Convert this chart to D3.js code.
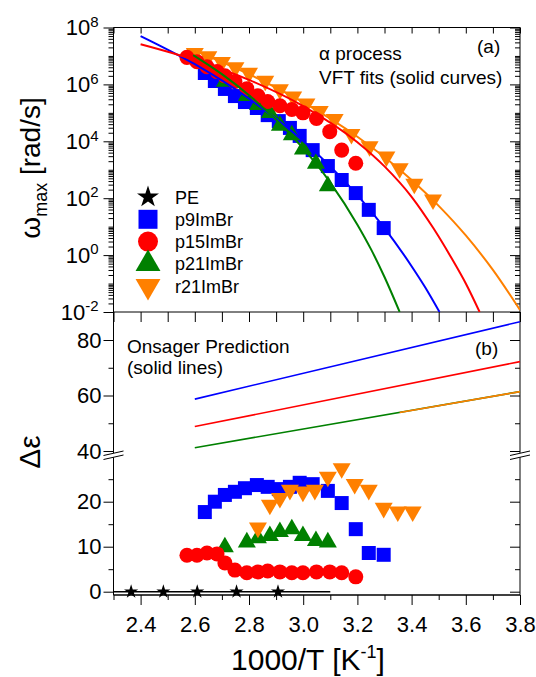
<!DOCTYPE html>
<meta charset="utf-8">
<style>
  body { margin: 0; background: #fff; }
  text { font-family: Arial, "Liberation Sans", sans-serif; fill: #000; }
</style>
<div id="container"></div>
<script src="https://cdn.jsdelivr.net/npm/d3@7"></script>
<script>

// ---- panel (a): alpha process, log10(omega_max [rad/s]) vs 1000/T ----
const p9_x    = [2.637, 2.674, 2.711, 2.748, 2.785, 2.829, 2.869, 2.910, 2.951, 2.987, 3.035, 3.091, 3.142, 3.194, 3.242, 3.297];
const p9_logw = [6.40, 6.12, 5.84, 5.59, 5.38, 5.17, 4.92, 4.71, 4.47, 4.19, 3.69, 3.13, 2.64, 2.18, 1.59, 0.95];

const p15_x    = [2.571, 2.608, 2.645, 2.682, 2.711, 2.748, 2.792, 2.833, 2.869, 2.914, 2.958, 2.999, 3.049, 3.098, 3.142, 3.194];
const p15_logw = [6.95, 6.80, 6.62, 6.45, 6.30, 6.10, 5.85, 5.60, 5.40, 5.25, 5.12, 5.00, 4.80, 4.34, 3.69, 3.23];

const p21_x    = [2.711, 2.792, 2.833, 2.877, 2.914, 2.958, 2.999, 3.047, 3.091];
const p21_logw = [6.10, 5.60, 5.28, 5.00, 4.55, 4.22, 3.72, 3.22, 2.43];

const r21_x    = [2.60, 2.65, 2.70, 2.75, 2.80, 2.86, 2.914, 2.963, 3.012, 3.061, 3.116, 3.178, 3.245, 3.307, 3.356, 3.41, 3.479];
const r21_logw = [7.10, 6.98, 6.78, 6.60, 6.40, 6.12, 5.82, 5.57, 5.32, 5.06, 4.78, 4.25, 3.82, 3.46, 3.05, 2.50, 1.95];

// VFT fit curves
const vft_p9_x  = [2.4, 2.6, 2.8, 3.0, 3.1, 3.2, 3.3, 3.4, 3.45, 3.503];
const vft_p9_y  = [7.70, 6.71, 5.50, 4.01, 3.12, 2.11, 0.95, -0.39, -1.13, -2.0];
const vft_p15_x = [2.4, 2.6, 2.8, 3.0, 3.2, 3.3, 3.4, 3.48, 3.55, 3.6, 3.651];
const vft_p15_y = [7.41, 6.86, 6.16, 5.24, 3.97, 3.12, 2.05, 0.95, -0.15, -1.0, -2.0];
const vft_p21_x = [2.594, 2.7, 2.8, 2.9, 3.0, 3.1, 3.2, 3.25, 3.3, 3.356];
const vft_p21_y = [7.03, 6.36, 5.62, 4.76, 3.75, 2.55, 1.07, 0.21, -0.77, -2.0];
const vft_r21_x = [2.594, 2.8, 3.0, 3.2, 3.4, 3.5, 3.6, 3.7, 3.8];
const vft_r21_y = [7.21, 6.36, 5.37, 4.16, 2.64, 1.73, 0.69, -0.52, -1.93];

// ---- panel (b): dielectric strength ----
const pe_x  = [2.365, 2.484, 2.609, 2.754, 2.907];
const pe_de = [0, 0, 0, 0, 0];
const pe_line_x = [2.3, 3.1];

const p9b_de  = [17.7, 20.0, 21.5, 22.2, 23.0, 23.7, 23.3, 22.8, 23.3, 24.2, 23.9, 22.4, 19.7, 13.9, 8.6, 8.2];
const p15b_de = [8.1, 8.1, 8.6, 8.4, 6.4, 4.8, 4.2, 4.4, 4.6, 4.4, 4.2, 4.2, 4.4, 4.4, 4.2, 3.3];
const p21b_de = [9.9, 11.0, 11.9, 12.4, 13.3, 13.9, 12.4, 11.3, 11.0];
const r21b_x  = [2.833, 2.877, 2.914, 2.951, 2.999, 3.043, 3.091, 3.142, 3.190, 3.242, 3.297, 3.349, 3.404];
const r21b_de = [14.2, 19.3, 20.8, 22.6, 22.2, 22.6, 25.5, 27.4, 23.9, 22.6, 18.6, 17.8, 17.8];

// Onsager predictions (solid lines)
const ons_x      = [2.6, 3.8];
const ons_p9     = [58.7, 86.6];
const ons_p15    = [48.8, 72.2];
const ons_p21    = [41.2, 61.4];
const ons_r21_x  = [3.356, 3.8];
const ons_r21    = [53.9, 61.4];

const legendNames = ["PE", "p9ImBr", "p15ImBr", "p21ImBr", "r21ImBr"];
const xMajor = [2.4, 2.6, 2.8, 3.0, 3.2, 3.4, 3.6, 3.8];

const BLUE = "#0000ff", RED = "#ff0000", GREEN = "#008000", ORANGE = "#ff8000";

const width = 536, height = 677;
const left = 113.5, right = 520;
const topA = 27.5, botA = 312, botB = 595;

const x = d3.scaleLinear().domain([2.3, 3.8]).range([left, right]);
const yA = d3.scaleLog().domain([1e-2, 1e8]).range([botA, topA]);
const yUp = d3.scaleLinear().domain([40, 80]).range([451, 340]);
const yLow = d3.scaleLinear().domain([0, 20]).range([591.7, 501.7]);

const svg = d3.create("svg")
    .attr("width", width)
    .attr("height", height);

svg.append("defs").append("clipPath").attr("id", "clipA")
  .append("rect").attr("x", left).attr("y", topA).attr("width", right - left).attr("height", botA - topA);

const xMinor = d3.range(23, 39).map(d => d / 10);

// ---------- axes panel (a) ----------
const axA = svg.append("g").attr("class", "axes");

axA.append("g").attr("transform", `translate(0,${topA})`)
    .call(d3.axisBottom(x).tickValues(xMinor).tickSize(6).tickFormat(""));
axA.append("g").attr("transform", `translate(0,${botA})`)
    .call(d3.axisBottom(x).tickValues(xMinor).tickSize(10).tickFormat(""));

const decades = d3.range(-2, 9);
const evenDec = decades.filter(d => d % 2 === 0).map(d => Math.pow(10, d));
let logMinor = [];
decades.forEach(d => {
  if (d % 2 !== 0) logMinor.push(Math.pow(10, d));
  if (d < 8) for (let k = 2; k <= 9; k++) logMinor.push(k * Math.pow(10, d));
});

const yAxL = axA.append("g").attr("transform", `translate(${left},0)`)
    .call(d3.axisLeft(yA).tickValues(evenDec).tickSize(10).tickPadding(5).tickFormat(""));
yAxL.selectAll(".tick text").each(function(d) {
  const t = d3.select(this);
  t.append("tspan").text("10");
  t.append("tspan").attr("dy", "-0.55em").style("font-size", "15px").text(Math.round(Math.log10(d)));
});
axA.append("g").attr("transform", `translate(${left},0)`)
    .call(d3.axisLeft(yA).tickValues(logMinor).tickSize(5).tickFormat(""));
axA.append("g").attr("transform", `translate(${right},0)`)
    .call(d3.axisLeft(yA).tickValues(evenDec).tickSize(10).tickFormat(""));
axA.append("g").attr("transform", `translate(${right},0)`)
    .call(d3.axisLeft(yA).tickValues(logMinor).tickSize(5).tickFormat(""));

// ---------- axes panel (b) ----------
axA.append("g").attr("transform", `translate(${left},0)`)
    .call(d3.axisLeft(yUp).tickValues([40, 60, 80]).tickSize(10).tickPadding(2));
axA.append("g").attr("transform", `translate(${left},0)`)
    .call(d3.axisLeft(yUp).tickValues([50, 70]).tickSize(5).tickFormat(""));
axA.append("g").attr("transform", `translate(${left},0)`)
    .call(d3.axisLeft(yLow).tickValues([0, 10, 20]).tickSize(10).tickPadding(2));
axA.append("g").attr("transform", `translate(${left},0)`)
    .call(d3.axisLeft(yLow).tickValues([5, 15, 25]).tickSize(5).tickFormat(""));
axA.append("g").attr("transform", `translate(${right},0)`)
    .call(d3.axisRight(yUp).tickValues([40, 60, 80]).tickSize(-10).tickFormat(""));
axA.append("g").attr("transform", `translate(${right},0)`)
    .call(d3.axisRight(yUp).tickValues([50, 70]).tickSize(-5).tickFormat(""));
axA.append("g").attr("transform", `translate(${right},0)`)
    .call(d3.axisRight(yLow).tickValues([0, 10, 20]).tickSize(-10).tickFormat(""));
axA.append("g").attr("transform", `translate(${right},0)`)
    .call(d3.axisRight(yLow).tickValues([5, 15, 25]).tickSize(-5).tickFormat(""));

axA.append("g").attr("transform", `translate(0,${botB})`)
    .call(d3.axisBottom(x).tickValues(xMajor).tickSize(10).tickPadding(11).tickFormat(d3.format(".1f")));
axA.append("g").attr("transform", `translate(0,${botB})`)
    .call(d3.axisBottom(x).tickValues(xMinor.filter(v => Math.round(v * 10) % 2 === 1)).tickSize(5).tickFormat(""));

axA.selectAll(".domain").remove();
axA.selectAll(".tick line").attr("stroke", "#000").attr("stroke-width", 1);
axA.selectAll(".tick text").style("font-size", "22px").attr("fill", "#000");

// frame lines
const frame = svg.append("g").attr("stroke", "#000").attr("stroke-width", 1).attr("fill", "none");
frame.append("line").attr("x1", left).attr("x2", right).attr("y1", topA).attr("y2", topA);
frame.append("line").attr("x1", left).attr("x2", right).attr("y1", botA).attr("y2", botA);
frame.append("line").attr("x1", left).attr("x2", right).attr("y1", botB).attr("y2", botB).attr("stroke-width", 1.5);
[left, right].forEach(xx => {
  frame.append("line").attr("x1", xx).attr("x2", xx).attr("y1", topA).attr("y2", 453);
  frame.append("line").attr("x1", xx).attr("x2", xx).attr("y1", 457).attr("y2", botB);
});

// axis break marks
[left, right].forEach(xx => {
  const b = svg.append("g");
  b.append("path")
    .attr("d", `M${xx - 10},${455.5} L${xx + 10},${451} L${xx + 10},${455} L${xx - 10},${459.5} Z`)
    .attr("fill", "#fff");
  b.append("line").attr("x1", xx - 10).attr("y1", 455.5).attr("x2", xx + 10).attr("y2", 451).attr("stroke", "#000");
  b.append("line").attr("x1", xx - 10).attr("y1", 459.5).attr("x2", xx + 10).attr("y2", 455).attr("stroke", "#000");
});

// ---------- marks ----------
const sym = (type, size) => d3.symbol(type, size)();
const shapes = {
  star: sym(d3.symbolStar, 62),
  square: sym(d3.symbolSquare, 196),
  circle: sym(d3.symbolCircle, 177),
  tri: sym(d3.symbolTriangle, 140)
};

function drawPoints(g, xs, ys, yScale, shape, color, rot) {
  g.append("g").selectAll("path").data(xs.map((v, i) => [v, ys[i]])).enter().append("path")
    .attr("d", shape)
    .attr("transform", d => `translate(${x(d[0])},${yScale(d[1])})` + (rot ? " rotate(180)" : ""))
    .attr("fill", color);
}

const yAw = v => yA(Math.pow(10, v));

const gA = svg.append("g");
drawPoints(gA, p9_x, p9_logw, yAw, shapes.square, BLUE);
drawPoints(gA, p21_x, p21_logw, yAw, shapes.tri, GREEN);
drawPoints(gA, r21_x, r21_logw, yAw, shapes.tri, ORANGE, true);
drawPoints(gA, p15_x, p15_logw, yAw, shapes.circle, RED);

const curve = d3.line().x(d => x(d[0])).y(d => yAw(d[1])).curve(d3.curveMonotoneX);
const curvesA = gA.append("g").attr("clip-path", "url(#clipA)").attr("fill", "none").attr("stroke-width", 2);
[[vft_p9_x, vft_p9_y, BLUE], [vft_p15_x, vft_p15_y, RED], [vft_p21_x, vft_p21_y, GREEN], [vft_r21_x, vft_r21_y, ORANGE]]
  .forEach(([xs, ys, c]) => {
    curvesA.append("path").attr("d", curve(xs.map((v, i) => [v, ys[i]]))).attr("stroke", c);
  });

// panel (b)
const gB = svg.append("g");
const lineUp = d3.line().x(d => x(d[0])).y(d => yUp(d[1]));
[[ons_x, ons_p9, BLUE], [ons_x, ons_p15, RED], [ons_x, ons_p21, GREEN], [ons_r21_x, ons_r21, ORANGE]]
  .forEach(([xs, ys, c]) => {
    gB.append("path").attr("d", lineUp(xs.map((v, i) => [v, ys[i]])))
      .attr("stroke", c).attr("stroke-width", 1.6).attr("fill", "none");
  });

gB.append("line")
  .attr("x1", x(pe_line_x[0])).attr("x2", x(pe_line_x[1]))
  .attr("y1", yLow(0)).attr("y2", yLow(0))
  .attr("stroke", "#000").attr("stroke-width", 1.5);

drawPoints(gB, p9_x, p9b_de, yLow, shapes.square, BLUE);
drawPoints(gB, p21_x, p21b_de, yLow, shapes.tri, GREEN);
drawPoints(gB, r21b_x, r21b_de, yLow, shapes.tri, ORANGE, true);
drawPoints(gB, p15_x, p15b_de, yLow, shapes.circle, RED);
drawPoints(gB, pe_x, pe_de, yLow, shapes.star, "#000");

// ---------- legend ----------
const legShapes = [
  [sym(d3.symbolStar, 150), "#000", false],
  [sym(d3.symbolSquare, 361), BLUE, false],
  [sym(d3.symbolCircle, 314), RED, false],
  [sym(d3.symbolTriangle, 269), GREEN, false],
  [sym(d3.symbolTriangle, 269), ORANGE, true]
];
const leg = svg.append("g");
legendNames.forEach((name, i) => {
  const cy = 197 + i * 22.3;
  leg.append("path").attr("d", legShapes[i][0]).attr("fill", legShapes[i][1])
    .attr("transform", `translate(148,${cy})` + (legShapes[i][2] ? " rotate(180)" : ""));
  leg.append("text").attr("x", 175).attr("y", cy + 6.5).style("font-size", "18px").text(name);
});

// ---------- annotations ----------
const note = (tx, ty, s, fs) => svg.append("text").attr("x", tx).attr("y", ty).style("font-size", fs + "px").text(s);
note(319, 60, "α process", 19);
note(319, 84, "VFT fits (solid curves)", 19);
note(477, 53, "(a)", 19);
note(127, 353, "Onsager Prediction", 19);
note(127, 374, "(solid lines)", 19);
note(475, 355, "(b)", 19);

// axis titles
const xt = svg.append("text").attr("x", 308).attr("y", 670).attr("text-anchor", "middle").style("font-size", "30px");
xt.append("tspan").text("1000/T [K");
xt.append("tspan").attr("dy", -12).style("font-size", "18px").text("-1");
xt.append("tspan").attr("dy", 12).text("]");

const yt = svg.append("text").attr("transform", "translate(40,168) rotate(-90)")
  .attr("text-anchor", "middle").style("font-size", "28px");
yt.append("tspan").text("ω");
yt.append("tspan").attr("dy", 7).style("font-size", "18px").text("max");
yt.append("tspan").attr("dy", -7).text(" [rad/s]");

svg.append("text").attr("transform", "translate(40,452) rotate(-90)")
  .attr("text-anchor", "middle").style("font-size", "30px").text("Δε");

container.append(svg.node());

</script>
